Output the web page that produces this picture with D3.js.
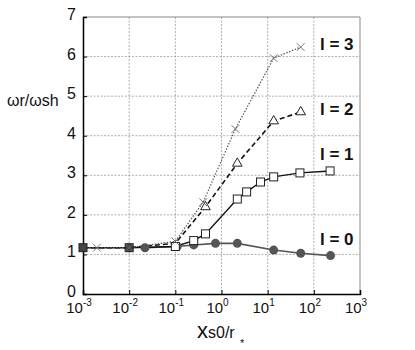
<!DOCTYPE html>
<html>
<head>
<meta charset="utf-8">
<script src="https://cdn.jsdelivr.net/npm/d3@7"></script>
<style>
  body { margin: 0; background: #fff; }
  text { font-family: "Liberation Sans", Arial, sans-serif; }
</style>
</head>
<body>
<svg id="chart" width="415" height="350"></svg>
<script>
// data
var xTicks = [1e-3, 1e-2, 1e-1, 1e0, 1e1, 1e2, 1e3];
var xTickExp = ["-3", "-2", "-1", "0", "1", "2", "3"];
var yTicks = [0, 1, 2, 3, 4, 5, 6, 7];

var l0x = [0.022, 0.11, 0.25, 0.74, 2.2, 13.5, 52, 230];
var l0y = [1.17, 1.2, 1.24, 1.28, 1.28, 1.11, 1.03, 0.97];
var l1x = [0.001, 0.01, 0.1, 0.25, 0.45, 2.2, 3.5, 7, 13.5, 50, 225];
var l1y = [1.17, 1.17, 1.2, 1.35, 1.52, 2.4, 2.58, 2.83, 2.96, 3.06, 3.11];
var l2x = [0.001, 0.01, 0.1, 0.45, 2.2, 13.5, 52];
var l2y = [1.17, 1.17, 1.28, 2.2, 3.3, 4.37, 4.6];
var l3x = [0.001, 0.002, 0.01, 0.1, 0.4, 2.0, 13.5, 52];
var l3y = [1.17, 1.17, 1.17, 1.33, 2.32, 4.17, 5.96, 6.24];

var svg = d3.select("#chart");
var pLeft = 83, pRight = 360, pTop = 17, pBottom = 294;

var x = d3.scaleLog().domain([1e-3, 1e3]).range([pLeft, pRight]);
var y = d3.scaleLinear().domain([0, 7]).range([pBottom, pTop]);

// grid
svg.selectAll(".vg").data(xTicks.slice(1, -1)).enter().append("line")
    .attr("x1", d => x(d)).attr("x2", d => x(d))
    .attr("y1", pTop).attr("y2", pBottom)
    .attr("stroke", "#999").attr("stroke-width", 0.8)
    .attr("stroke-dasharray", "2,1.5")
svg.selectAll(".hg").data(yTicks.slice(1, -1)).enter().append("line")
    .attr("x1", pLeft).attr("x2", pRight)
    .attr("y1", d => y(d)).attr("y2", d => y(d))
    .attr("stroke", "#999").attr("stroke-width", 0.8)
    .attr("stroke-dasharray", "2,1.5")

// frame
svg.append("line").attr("x1", pLeft).attr("x2", pRight).attr("y1", pTop).attr("y2", pTop)
    .attr("stroke", "#888").attr("stroke-width", 1)
svg.append("line").attr("x1", pRight).attr("x2", pRight).attr("y1", pTop).attr("y2", pBottom)
    .attr("stroke", "#888").attr("stroke-width", 1)

// axes
var xAxis = d3.axisBottom(x).tickValues(xTicks).tickSize(-4).tickFormat("");
var gx = svg.append("g").attr("transform", "translate(0," + pBottom + ")").call(xAxis);
var yAxis = d3.axisLeft(y).tickValues(yTicks).tickSize(-4).tickFormat("");
var gy = svg.append("g").attr("transform", "translate(" + pLeft + ",0)").call(yAxis);
gx.select(".domain").attr("stroke", "#000").attr("stroke-width", 1.5);
gy.select(".domain").attr("stroke", "#000").attr("stroke-width", 1.5);
svg.selectAll(".tick line").attr("stroke", "#000");

// tick labels
xTicks.forEach(function(d, i) {
  var t = svg.append("text").attr("x", x(d) - 4).attr("y", pBottom + 19)
      .attr("text-anchor", "middle").attr("font-size", 15).attr("fill", "#111");
  t.append("tspan").text("10");
  t.append("tspan").attr("dy", -7).attr("font-size", 10).text(xTickExp[i]);
});
yTicks.forEach(function(d) {
  svg.append("text").attr("x", pLeft - 7).attr("y", y(d) + 3)
      .attr("text-anchor", "end").attr("font-size", 16).attr("fill", "#111").text(d);
});

// axis titles
var yt = svg.append("text").attr("x", 7).attr("y", 106).attr("font-size", 16).attr("fill", "#111");
yt.append("tspan").text("ωr/ωsh");
var xt = svg.append("text").attr("x", 197).attr("y", 338).attr("font-size", 22).attr("fill", "#111");
xt.append("tspan").text("x");
xt.append("tspan").attr("font-size", 16).text("s0/r");
svg.append("text").attr("x", 240).attr("y", 347).attr("font-size", 11).attr("fill", "#111").text("*");

function zip(xs, ys) { return xs.map((v, i) => [v, ys[i]]); }
var line = d3.line().x(d => x(d[0])).y(d => y(d[1]));

// l = 0
svg.append("path").datum(zip(l0x, l0y)).attr("d", line)
    .attr("fill", "none").attr("stroke", "#555").attr("stroke-width", 1.6)
// l = 1
svg.append("path").datum(zip(l1x, l1y)).attr("d", line)
    .attr("fill", "none").attr("stroke", "#111").attr("stroke-width", 1.4)
// l = 2
svg.append("path").datum(zip(l2x, l2y)).attr("d", line)
    .attr("fill", "none").attr("stroke", "#111").attr("stroke-width", 1.6)
    .attr("stroke-dasharray", "5,3")
// l = 3
svg.append("path").datum(zip(l3x, l3y)).attr("d", line)
    .attr("fill", "none").attr("stroke", "#555").attr("stroke-width", 1.2)
    .attr("stroke-dasharray", "1.5,1.5")

// markers
svg.selectAll(".m0").data(zip(l0x, l0y)).enter().append("circle")
    .attr("cx", d => x(d[0])).attr("cy", d => y(d[1])).attr("r", 4.5)
    .attr("fill", "#555")
svg.selectAll(".m1").data(zip(l1x, l1y)).enter().append("rect")
    .attr("x", d => x(d[0]) - 4).attr("y", d => y(d[1]) - 4)
    .attr("width", 8).attr("height", 8)
    .attr("fill", (d, i) => i < 2 ? "#444" : "#fff").attr("stroke", "#222").attr("stroke-width", 1)
var tri = d3.symbol().type(d3.symbolTriangle).size(40);
svg.selectAll(".m2").data(zip(l2x, l2y).slice(3)).enter().append("path")
    .attr("d", tri)
    .attr("transform", d => "translate(" + x(d[0]) + "," + y(d[1]) + ")")
    .attr("fill", "#fff").attr("stroke", "#222").attr("stroke-width", 1)
var cross = d3.symbol().type(d3.symbolX).size(40);
svg.selectAll(".m3").data(zip(l3x, l3y).slice(1)).enter().append("path")
    .attr("d", cross)
    .attr("transform", d => "translate(" + x(d[0]) + "," + y(d[1]) + ")")
    .attr("fill", "none").attr("stroke", "#666").attr("stroke-width", 0.9)

// series labels
var labels = [["l = 3", 50], ["l = 2", 115], ["l = 1", 160], ["l = 0", 245]];
labels.forEach(function(l) {
  svg.append("text").attr("x", 320).attr("y", l[1]).attr("font-size", 17)
      .attr("font-weight", "bold").attr("fill", "#111").text(l[0]);
});
</script>
</body>
</html>
